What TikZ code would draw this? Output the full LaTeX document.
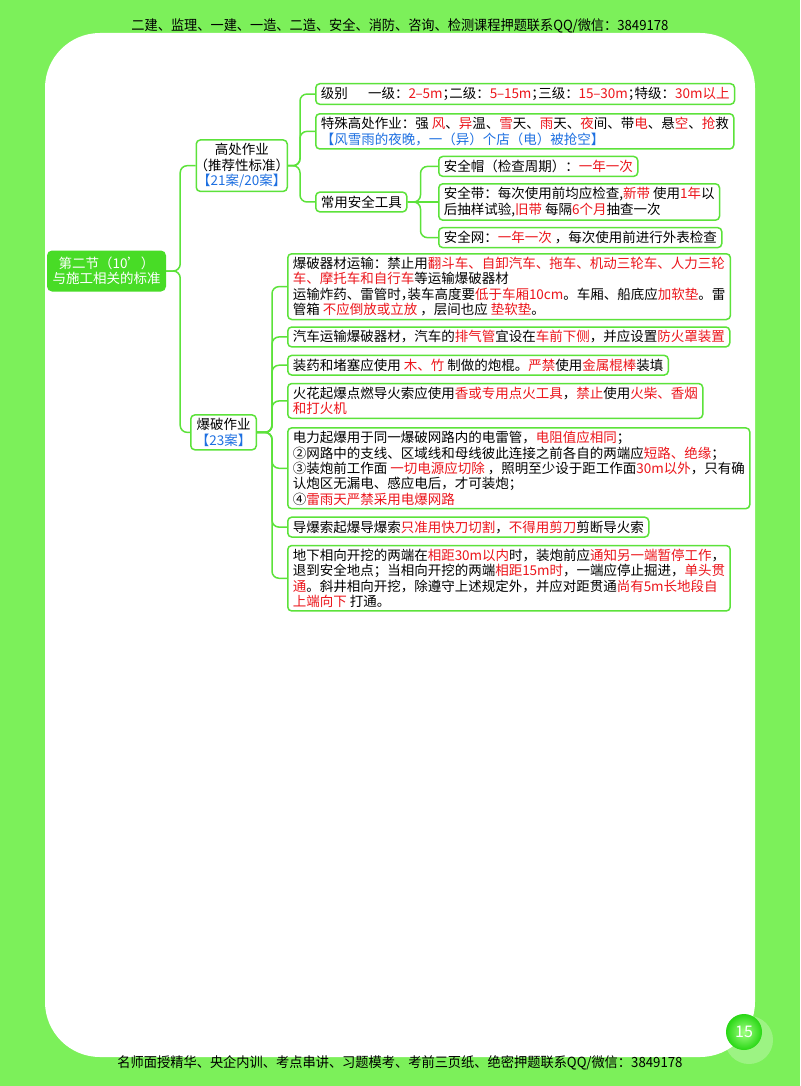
\documentclass[tikz,border=0pt]{standalone}
\usepackage{fontspec}
\usepackage{graphicx}
\usepackage{xcolor}
\setmainfont{Noto Sans CJK SC}
\usetikzlibrary{positioning,calc}

\definecolor{pagegreen}{RGB}{124,240,90}
\definecolor{mapgreen}{RGB}{92,226,58}
\definecolor{rootgreen}{RGB}{72,220,38}
\definecolor{keyred}{RGB}{236,22,28}
\definecolor{tipblue}{RGB}{30,112,225}

\newcommand{\kw}[1]{\textcolor{keyred}{#1}}
\newcommand{\memo}[1]{\textcolor{tipblue}{#1}}
\newcommand{\halfpunct}{\addfontfeatures{RawFeature=+halt}}
\newcommand{\shortdash}{\scalebox{0.55}[1]{—}}

\begin{document}
\begin{tikzpicture}[
  x=1pt, y=-1pt,
  every node/.style={font=\fontsize{13.5}{15.3}\selectfont},
  topic/.style={rectangle, rounded corners=4pt, draw=mapgreen, line width=1.5pt, fill=white,
                align=center, inner xsep=5pt, inner ysep=3.5pt},
  leaf/.style={rectangle, rounded corners=4pt, draw=mapgreen, line width=1.5pt, fill=white,
               align=left, inner xsep=5pt, inner ysep=3.5pt},
  rootbox/.style={rectangle, rounded corners=5pt, fill=rootgreen, text=white,
                  align=center, minimum width=119pt, minimum height=41pt},
  link/.style={draw=mapgreen, line width=1.5pt, rounded corners=7pt},
]
\useasboundingbox (0,0) rectangle (800,1086);

%% Page frame
\fill[pagegreen] (0,0) rectangle (800,1086);
\fill[white, rounded corners=55pt] (45,33) rectangle (755,1057);
\node (header) at (400,26) {\resizebox{537pt}{\height}{\fontsize{14}{14}\selectfont 二建、监理、一建、一造、二造、安全、消防、咨询、检测课程押题联系QQ/微信：3849178}};
\node (footer) at (400,1063) {\resizebox{565pt}{\height}{\fontsize{14}{14}\selectfont 名师面授精华、央企内训、考点串讲、习题模考、考前三页纸、绝密押题联系QQ/微信：3849178}};
\node[circle, fill=white, opacity=0.25, minimum size=48pt] (halo) at (749,1040) {};
\node[circle, inner sep=0pt, minimum size=36pt, shading=radial,
      inner color={rgb,255:red,160;green,255;blue,130}, outer color={rgb,255:red,40;green,215;blue,20},
      text=white, font=\fontsize{16}{16}\selectfont] (pagenum) at (744,1032) {15};

%% Root
\node[rootbox] (root) at (106.5,271) {第二节（10'）\\与施工相关的标准};

%% Upper branch: work at height
\node[leaf, anchor=north west] (grade) at (315,83)
  {级别\hspace{1.5em}一级：\kw{2\shortdash 5m}{\halfpunct；}二级：\kw{5\shortdash 15m}{\halfpunct；}三级：\kw{15\shortdash 30m}{\halfpunct；}特级：\kw{30m以上}};
\node[leaf, below right=8pt and 0pt of grade.south west] (special)
  {特殊高处作业：强 \kw{风}、\kw{异}温、\kw{雪}天、\kw{雨}天、\kw{夜}间、带\kw{电}、悬\kw{空}、\kw{抢}救\\
   \memo{【风雪雨的夜晚，一（异）个店（电）被抢空】}};
\node[leaf, below right=6pt and 123pt of special.south west] (helmet)
  {安全帽（检查周期）：\kw{一年一次}};
\node[leaf, below right=6pt and 0pt of helmet.south west] (belt)
  {安全带：每次使用前均应检查,\kw{新带} 使用\kw{1年}以\\
   后抽样试验,\kw{旧带} 每隔\kw{6个月}抽查一次};
\node[leaf, below right=6pt and 0pt of belt.south west] (net)
  {安全网：\kw{一年一次} ，每次使用前进行外表检查};
\node[leaf, anchor=west] (tools) at (grade.west |- belt.west) {常用安全工具};
\coordinate (hmid) at ($(grade.north west)!0.5!(grade.west |- net.south)$);
\node[topic, left=27pt of hmid] (height)
  {高处作业\\{\halfpunct（推荐性标准）}\\
   \memo{\halfpunct【21案/20案】}};

%% Lower branch: blasting
\node[leaf, anchor=north west] (b1) at (287,253)
  {爆破器材运输：禁止用\kw{翻斗车、自卸汽车、拖车、机动三轮车、人力三轮}\\
   \kw{车、摩托车和自行车}等运输爆破器材\\
   运输炸药、雷管时{\halfpunct，}装车高度要\kw{低于车厢10cm}。车厢、船底应\kw{加软垫}。雷\\
   管箱 \kw{不应倒放或立放} ，层间也应 \kw{垫软垫}。};
\node[leaf, below right=6pt and 0pt of b1.south west] (b2)
  {汽车运输爆破器材，汽车的\kw{排气管}宜设在\kw{车前下侧}，并应设置\kw{防火罩装置}};
\node[leaf, below right=7pt and 0pt of b2.south west] (b3)
  {装药和堵塞应使用 \kw{木、竹} 制做的炮棍。\kw{严禁}使用\kw{金属棍棒}装填};
\node[leaf, below right=7pt and 0pt of b3.south west] (b4)
  {火花起爆点燃导火索应使用\kw{香或专用点火工具}，\kw{禁止}使用\kw{火柴、香烟}\\
   \kw{和打火机}};
\node[leaf, below right=8pt and 0pt of b4.south west] (b5)
  {电力起爆用于同一爆破网路内的电雷管，\kw{电阻值应相同}；\\
   ②网路中的支线、区域线和母线彼此连接之前各自的两端应\kw{短路、绝缘}；\\
   ③装炮前工作面 \kw{一切电源应切除} ，照明至少设于距工作面\kw{30m以外}，只有确\\
   认炮区无漏电、感应电后，才可装炮；\\
   ④\kw{雷雨天严禁采用电爆网路}};
\node[leaf, below right=7pt and 0pt of b5.south west] (b6)
  {导爆索起爆导爆索\kw{只准用快刀切割}，\kw{不得用剪刀}剪断导火索};
\node[leaf, below right=7pt and 0pt of b6.south west] (b7)
  {地下相向开挖的两端在\kw{相距30m以内}时，装炮前应\kw{通知另一端暂停工作}，\\
   退到安全地点；当相向开挖的两端\kw{相距15m时}，一端应停止掘进，\kw{单头贯}\\
   \kw{通}。斜井相向开挖，除遵守上述规定外，并应对距贯通\kw{尚有5m长地段自}\\
   \kw{上端向下} 打通。};
\coordinate (bmid) at ($(b1.north west)!0.5!(b7.south west)$);
\node[topic, left=30pt of bmid] (blast) {爆破作业\\\memo{【23案】}};

%% Root links
\draw[link] (root.east) -- ++(14,0) |- (height.west);
\draw[link] (root.east) -- ++(14,0) |- (blast.west);

%% Work-at-height links
\draw[link] (height.east) -- ++(12,0) |- (grade.west);
\draw[link] (height.east) -- ++(12,0) |- (special.west);
\draw[link] (height.east) -- ++(12,0) |- (tools.west);
\draw[link] (tools.east) -- ++(13,0) |- (helmet.west);
\draw[link] (tools.east) -- (belt.west);
\draw[link] (tools.east) -- ++(13,0) |- (net.west);

%% Blasting links
\draw[link] (blast.east) -- ++(15,0) |- (b1.west);
\draw[link] (blast.east) -- ++(15,0) |- (b2.west);
\draw[link] (blast.east) -- ++(15,0) |- (b3.west);
\draw[link] (blast.east) -- ++(15,0) |- (b4.west);
\draw[link] (blast.east) -- ++(15,0) |- (b5.west);
\draw[link] (blast.east) -- ++(15,0) |- (b6.west);
\draw[link] (blast.east) -- ++(15,0) |- (b7.west);
\end{tikzpicture}
\end{document}
